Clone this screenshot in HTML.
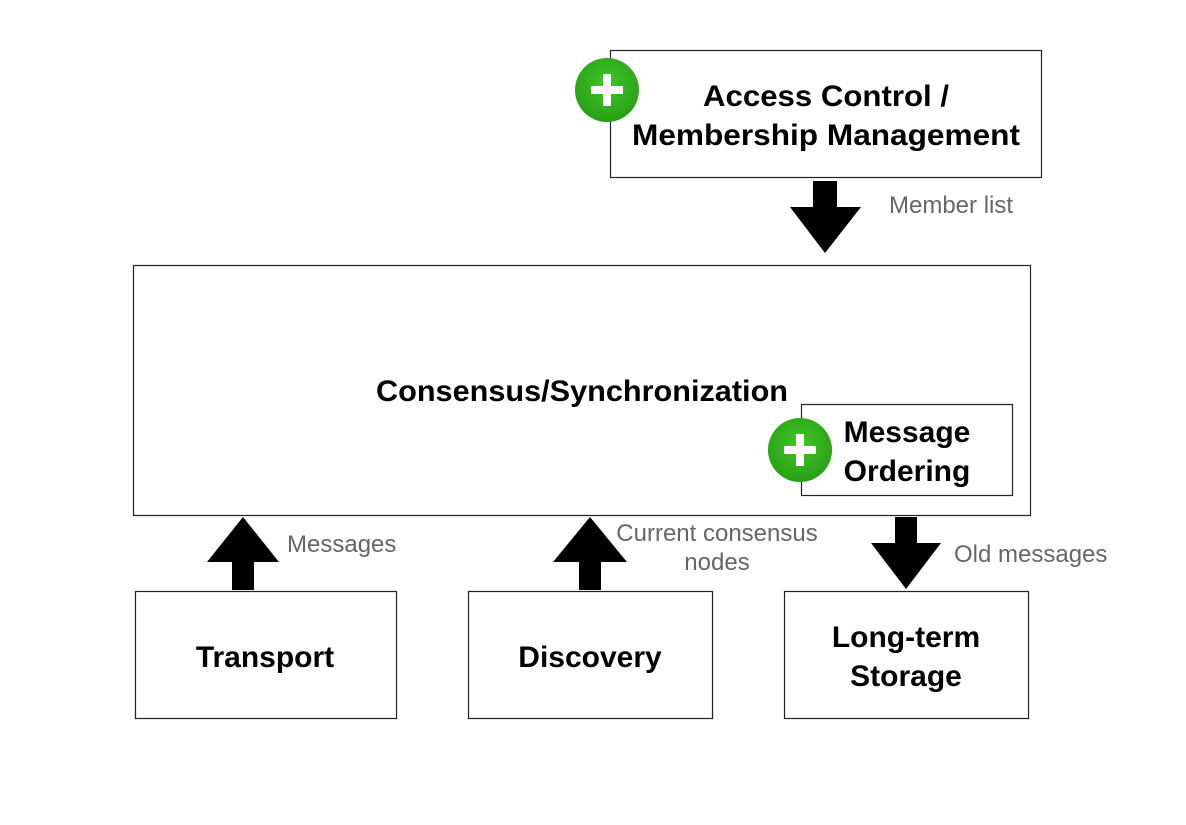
<!DOCTYPE html>
<html><head><meta charset="utf-8"><style>body{margin:0;background:#fff}svg{display:block}</style></head><body>
<svg width="1186" height="825" viewBox="0 0 1186 825" xmlns="http://www.w3.org/2000/svg" font-family="Liberation Sans, sans-serif">
<defs><radialGradient id="g" cx="50%" cy="40%" r="60%"><stop offset="0" stop-color="#44c42a"/><stop offset="1" stop-color="#26a014"/></radialGradient></defs>
<g fill="#fff" stroke="#222" stroke-width="1.2">
<rect x="610.5" y="50.5" width="431" height="127"/>
<rect x="133.5" y="265.5" width="897" height="250"/>
<rect x="801.5" y="404.5" width="211" height="91"/>
<rect x="135.5" y="591.5" width="261" height="127"/>
<rect x="468.5" y="591.5" width="244" height="127"/>
<rect x="784.5" y="591.5" width="244" height="127"/>
</g>
<g fill="#000">
<polygon points="813,181 837,181 837,207 861,207 825,253 790,207 813,207"/>
<polygon points="232,590 254,590 254,562 279,562 243,517 207,562 232,562"/>
<polygon points="579,590 601,590 601,562 627,562 590,517 553,562 579,562"/>
<polygon points="895,517 917,517 917,543 941,543 906,589 871,543 895,543"/>
</g>
<circle cx="607" cy="90" r="32" fill="url(#g)"/>
<rect x="591" y="86" width="32" height="8" fill="#fff"/><rect x="603" y="74" width="8" height="32" fill="#fff"/>
<circle cx="800" cy="450" r="32" fill="url(#g)"/>
<rect x="784" y="446" width="32" height="8" fill="#fff"/><rect x="796" y="434" width="8" height="32" fill="#fff"/>
<g font-size="30" font-weight="bold" fill="#000" text-anchor="middle">
<text x="826" y="106" textLength="246" lengthAdjust="spacingAndGlyphs">Access Control /</text>
<text x="826" y="145" textLength="388" lengthAdjust="spacingAndGlyphs">Membership Management</text>
<text x="582" y="401" textLength="412" lengthAdjust="spacingAndGlyphs">Consensus/Synchronization</text>
<text x="907" y="442">Message</text>
<text x="907" y="481">Ordering</text>
<text x="265" y="667">Transport</text>
<text x="590" y="667">Discovery</text>
<text x="906" y="647">Long-term</text>
<text x="906" y="686">Storage</text>
</g>
<g font-size="24" fill="#666">
<text x="889" y="213">Member list</text>
<text x="287" y="552">Messages</text>
<text x="717" y="541" text-anchor="middle">Current consensus</text>
<text x="717" y="570" text-anchor="middle">nodes</text>
<text x="954" y="562">Old messages</text>
</g>
</svg>
</body></html>
